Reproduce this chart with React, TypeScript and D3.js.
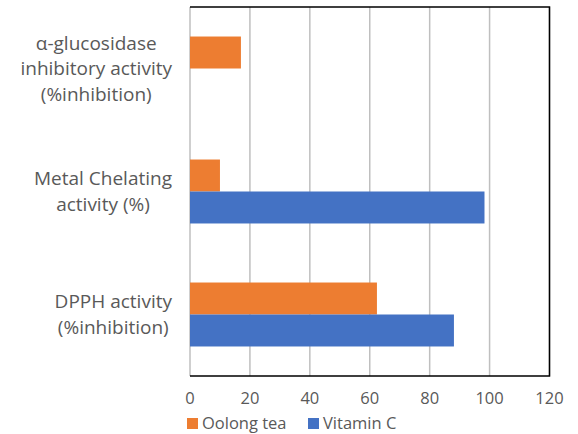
import * as d3 from 'd3';
import { useEffect, useRef } from 'react';

const categories = [
    ['α-glucosidase', 'inhibitory activity', '(%inhibition)'],
    ['Metal Chelating', 'activity (%)'],
    ['DPPH activity', '(%inhibition)']
];
const seriesNames = ['Oolong tea', 'Vitamin C'];
const oolongTea: (number | null)[] = [17.0, 10.0, 62.4];
const vitaminC: (number | null)[] = [null, 98.3, 88.1];
const xTicks = [0, 20, 40, 60, 80, 100, 120];
const colors = ['#ED7D31', '#4472C4'];

const FONT = '"Open Sans", sans-serif';

const App: React.FC = () => {
    const ref = useRef<SVGSVGElement | null>(null);

    useEffect(() => {
        if (!ref.current) return;
        const svg = d3.select(ref.current);
        svg.selectAll('*').remove();

        const left = 190, right = 549.5, top = 7, bottom = 376;
        const keys = categories.map((_c, i) => String(i));
        const values = [oolongTea, vitaminC];

        const x = d3.scaleLinear().domain([0, 120]).range([left, right]);
        const y = d3.scaleBand().domain(keys).range([top, bottom])
            .paddingInner(0.48).paddingOuter(0.24);
        const ySub = d3.scaleBand().domain(seriesNames).range([0, y.bandwidth()]);

        // gridlines
        svg.append('g').selectAll('line')
            .data(xTicks)
            .enter().append('line')
            .attr('x1', d => x(d)).attr('x2', d => x(d))
            .attr('y1', top).attr('y2', bottom)
            .attr('stroke', '#BFBFBF')
            .attr('stroke-width', 1.5);

        // bars
        seriesNames.forEach((name, s) => {
            svg.append('g').selectAll('rect')
                .data(values[s].map((v, i) => ({ v, i })).filter(d => d.v !== null))
                .enter().append('rect')
                .attr('x', x(0))
                .attr('y', d => y(String(d.i))! + ySub(name)!)
                .attr('width', d => x(d.v as number) - x(0))
                .attr('height', ySub.bandwidth())
                .attr('fill', colors[s]);
        });

        // plot border (top, right, bottom)
        svg.append('path')
            .attr('d', `M${left},${top}H${right}V${bottom}H${left}`)
            .attr('fill', 'none')
            .attr('stroke', '#000')
            .attr('stroke-width', 1.5);

        // x tick labels
        svg.append('g').selectAll('text')
            .data(xTicks)
            .enter().append('text')
            .attr('x', d => x(d))
            .attr('y', 404)
            .attr('text-anchor', 'middle')
            .attr('font-family', FONT)
            .attr('font-size', 16.5)
            .attr('fill', '#595959')
            .text(d => d);

        // category labels
        const labelRight = 172;
        const lineH = 25.5;
        categories.forEach((lines, i) => {
            const cy = y(String(i))! + y.bandwidth() / 2;
            const g = svg.append('g');
            const texts = g.selectAll('text')
                .data(lines)
                .enter().append('text')
                .attr('y', (_d, j) => cy + 6.5 + (j - (lines.length - 1) / 2) * lineH)
                .attr('text-anchor', 'middle')
                .attr('font-family', FONT)
                .attr('font-size', 19)
                .attr('fill', '#595959')
                .text(d => d);
            let maxW = 0;
            texts.each(function () {
                maxW = Math.max(maxW, (this as SVGTextElement).getComputedTextLength());
            });
            texts.attr('x', labelRight - maxW / 2);
        });

        // legend
        const legendX = [187, 308];
        seriesNames.forEach((name, s) => {
            svg.append('rect')
                .attr('x', legendX[s])
                .attr('y', 418)
                .attr('width', 11)
                .attr('height', 11)
                .attr('fill', colors[s]);
            svg.append('text')
                .attr('x', legendX[s] + 15)
                .attr('y', 429)
                .attr('font-family', FONT)
                .attr('font-size', 16.5)
                .attr('fill', '#595959')
                .text(name);
        });
    }, []);

    return (
        <svg ref={ref} width={578} height={434}
            style={{ position: 'absolute', left: 0, top: 0, background: '#fff' }} />
    );
};

export default App;
